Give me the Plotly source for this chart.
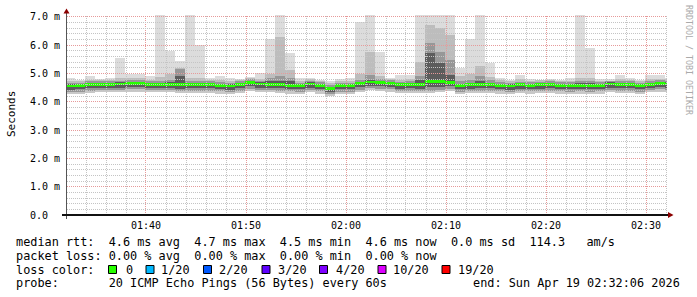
import math
import pandas as pd
import plotly.graph_objects as go

# ---------------- data (ms) ----------------
times = pd.date_range("2026-04-19 01:32:24", periods=61, freq="min")

median = [4.56,4.57,4.61,4.62,4.62,4.63,4.65,4.65,4.62,4.62,
          4.62,4.61,4.61,4.61,4.61,4.58,4.56,4.61,4.68,4.63,
          4.62,4.61,4.58,4.57,4.63,4.58,4.48,4.57,4.57,4.64,
          4.70,4.68,4.65,4.60,4.61,4.61,4.71,4.71,4.69,4.57,
          4.60,4.61,4.61,4.58,4.56,4.60,4.58,4.60,4.61,4.58,
          4.58,4.58,4.58,4.58,4.63,4.61,4.61,4.57,4.62,4.65,
          4.63]
ping_max = [4.83,4.76,4.92,4.80,4.85,5.56,5.00,4.97,4.90,7.30,
            5.80,5.44,7.30,6.00,4.85,4.93,4.85,4.80,4.88,5.03,
            6.22,7.30,5.71,4.83,4.83,4.77,4.75,4.80,4.83,6.83,
            7.30,5.77,4.85,4.95,4.95,7.30,7.30,7.30,7.30,5.20,
            6.22,7.30,5.38,4.84,4.77,4.95,4.80,4.77,4.80,4.77,
            4.83,7.30,5.89,4.80,4.78,4.95,4.85,4.78,4.95,4.95,
            4.85]
upper3 = [4.73,4.72,4.78,4.76,4.78,4.85,4.84,4.83,4.79,4.88,
          4.98,5.20,4.85,4.85,4.78,4.76,4.74,4.76,4.82,4.82,
          5.00,6.30,5.12,4.74,4.78,4.74,4.66,4.74,4.74,5.00,
          5.77,4.92,4.80,4.78,4.80,5.42,6.72,6.60,6.36,4.90,
          5.00,5.25,4.88,4.76,4.72,4.80,4.75,4.74,4.76,4.74,
          4.75,4.85,4.85,4.74,4.74,4.80,4.78,4.73,4.80,4.82,
          4.78]
upper2 = [4.67,4.68,4.72,4.72,4.73,4.75,4.76,4.76,4.73,4.74,
          4.78,5.15,4.75,4.73,4.72,4.69,4.67,4.72,4.78,4.74,
          4.85,4.90,4.85,4.68,4.74,4.69,4.59,4.68,4.68,4.76,
          4.95,4.80,4.76,4.71,4.72,4.90,6.08,5.77,5.48,4.74,
          4.78,4.90,4.76,4.69,4.67,4.71,4.69,4.71,4.72,4.69,
          4.69,4.74,4.74,4.69,4.74,4.72,4.72,4.68,4.73,4.76,
          4.74]
upper1 = [4.62,4.63,4.67,4.68,4.68,4.69,4.71,4.71,4.68,4.68,
          4.70,4.90,4.68,4.67,4.67,4.64,4.62,4.67,4.74,4.69,
          4.72,4.72,4.72,4.63,4.69,4.64,4.54,4.63,4.63,4.70,
          4.78,4.74,4.71,4.66,4.67,4.76,5.72,5.37,4.95,4.64,
          4.68,4.72,4.68,4.64,4.62,4.66,4.64,4.66,4.67,4.64,
          4.64,4.65,4.65,4.64,4.69,4.67,4.67,4.63,4.68,4.71,
          4.69]
lower1 = [4.43,4.44,4.48,4.49,4.49,4.50,4.52,4.52,4.49,4.49,
          4.49,4.47,4.48,4.48,4.48,4.45,4.43,4.48,4.55,4.50,
          4.49,4.48,4.45,4.44,4.50,4.45,4.36,4.44,4.44,4.51,
          4.57,4.55,4.52,4.47,4.48,4.47,4.52,4.54,4.55,4.44,
          4.47,4.48,4.48,4.45,4.43,4.47,4.45,4.47,4.48,4.45,
          4.44,4.45,4.44,4.45,4.50,4.48,4.48,4.44,4.49,4.52,
          4.50]
lower2 = [4.35,4.36,4.40,4.41,4.41,4.42,4.44,4.44,4.41,4.41,
          4.41,4.39,4.40,4.40,4.40,4.37,4.35,4.40,4.47,4.42,
          4.41,4.40,4.37,4.36,4.42,4.37,4.28,4.36,4.36,4.43,
          4.49,4.47,4.44,4.39,4.40,4.39,4.40,4.43,4.46,4.36,
          4.39,4.40,4.40,4.37,4.35,4.39,4.37,4.39,4.40,4.37,
          4.36,4.37,4.36,4.37,4.42,4.40,4.40,4.36,4.41,4.44,
          4.42]
ping_min = [4.29,4.30,4.34,4.35,4.35,4.36,4.38,4.38,4.35,4.35,
            4.35,4.33,4.34,4.34,4.34,4.31,4.29,4.34,4.41,4.36,
            4.35,4.34,4.31,4.30,4.36,4.31,4.22,4.30,4.30,4.37,
            4.43,4.41,4.38,4.33,4.34,4.33,4.30,4.34,4.38,4.30,
            4.33,4.34,4.34,4.31,4.29,4.33,4.31,4.33,4.34,4.31,
            4.30,4.31,4.30,4.31,4.36,4.34,4.34,4.30,4.35,4.38,
            4.36]

y_tickvals = [0, 1, 2, 3, 4, 5, 6, 7]
y_ticktext = ["0.0\u00a0\u00a0", "1.0 m", "2.0 m", "3.0 m", "4.0 m", "5.0 m", "6.0 m", "7.0 m"]

loss_labels = ["0", "1/20", "2/20", "3/20", "4/20", "10/20", "19/20"]
loss_colors = ["#26ff00", "#00b8ff", "#0059ff", "#5e00ff", "#7e00ff", "#dd00ff", "#ff0000"]

# ---------------- figure ----------------
W, H = 697, 297
L, R, T, B = 67, 30, 15, 82
PW, PH = W - L - R, H - T - B
Y_MAX = 7.07
x0 = pd.Timestamp("2026-04-19 01:32:06")
x1 = pd.Timestamp("2026-04-19 02:32:06")


def px(x):
    return (x - L) / PW


def py(y):
    return (H - B - y) / PH


fig = go.Figure()

bands = [
    (upper3, ping_max, "#dcdcdc"),
    (upper2, upper3, "#bdbdbd"),
    (upper1, upper2, "#979797"),
    (median, upper1, "#5c5c5c"),
    (lower1, median, "#5c5c5c"),
    (lower2, lower1, "#979797"),
    (ping_min, lower2, "#c8c8c8"),
]
for lo, hi, col in bands:
    fig.add_trace(go.Bar(
        x=times, base=lo, y=[h - l for l, h in zip(lo, hi)],
        width=60000, marker=dict(color=col, line=dict(width=0)),
        hoverinfo="skip", showlegend=False))

MED_H = 0.1
fig.add_trace(go.Bar(
    x=times, base=[m - MED_H / 2 for m in median], y=[MED_H] * len(median),
    width=60000, marker=dict(color=loss_colors[0], line=dict(width=0)),
    hoverinfo="skip", showlegend=False))

shapes = []
GRID = "#c4c4c4"
MGRID = "#e69a9a"
DASH = "1px,1px"
span_s = (x1 - x0).total_seconds()
# vertical grid (pixel-snapped so the dots stay crisp)
for t in pd.date_range("2026-04-19 01:34", "2026-04-19 02:32", freq="2min"):
    major = t.minute % 10 == 0
    xp = L + math.floor((t - x0).total_seconds() / span_s * PW) + 0.5
    shapes.append(dict(type="line", xref="paper", yref="paper", x0=px(xp), x1=px(xp),
                       y0=0, y1=1,
                       line=dict(color=MGRID if major else GRID, width=1, dash=DASH), layer="above"))
# horizontal grid
for k in range(1, 36):
    v = k * 0.2
    major = k % 5 == 0
    yp = math.floor(H - B - v / Y_MAX * PH) + 0.5
    shapes.append(dict(type="line", xref="paper", yref="paper", x0=0, x1=1, y0=py(yp), y1=py(yp),
                       line=dict(color=MGRID if major else GRID, width=1, dash=DASH), layer="above"))
# axes
shapes.append(dict(type="line", xref="paper", yref="paper", x0=px(66.5), x1=px(66.5),
                   y0=py(219), y1=py(12), line=dict(color="#555555", width=1), layer="above"))
shapes.append(dict(type="line", xref="paper", yref="paper", x0=px(62), x1=px(669),
                   y0=py(215), y1=py(215), line=dict(color="#111111", width=2), layer="above"))
# arrows
shapes.append(dict(type="path", xref="paper", yref="paper",
                   path=f"M {px(63.5)},{py(13.5)} L {px(69.5)},{py(13.5)} L {px(66.5)},{py(8.5)} Z",
                   fillcolor="#8b0000", line=dict(width=0), layer="above"))
shapes.append(dict(type="path", xref="paper", yref="paper",
                   path=f"M {px(668)},{py(212)} L {px(668)},{py(218)} L {px(673.5)},{py(215)} Z",
                   fillcolor="#8b0000", line=dict(width=0), layer="above"))

# loss color boxes
box_x = [108.5, 146, 203.5, 262, 319.5, 378, 442]
lab_x = [125, 160, 218, 277, 334.5, 392, 456.5]
for bx, col in zip(box_x, loss_colors):
    shapes.append(dict(type="rect", xref="paper", yref="paper",
                       x0=px(bx), x1=px(bx + 8), y0=py(273.5), y1=py(265.5),
                       fillcolor=col, line=dict(color="#000000", width=1), layer="above"))

MONO = "DejaVu Sans Mono"
FS = 11.85
ann = []


def text(x, y, s, size=FS, color="#000000", anchor="left", angle=0):
    ann.append(dict(x=px(x), y=py(y), xref="paper", yref="paper", text=s, showarrow=False,
                    xanchor=anchor, yanchor="middle", textangle=angle, borderpad=0,
                    font=dict(family=MONO, size=size, color=color)))


text(15, 241.5, "median rtt:  4.6 ms avg  4.7 ms max  4.5 ms min  4.6 ms now  0.0 ms sd  114.3   am/s")
text(15, 255.5, "packet loss: 0.00 % avg  0.00 % max  0.00 % min  0.00 % now")
text(15, 269.5, "loss color:")
for lx, lab in zip(lab_x, loss_labels):
    text(lx, 269.5, lab)
text(15, 283, "probe:       20 ICMP Echo Pings (56 Bytes) every 60s")
text(681, 283, "end: Sun Apr 19 02:32:06 2026", anchor="right")
# y title
ann.append(dict(x=px(11), y=py(114), xref="paper", yref="paper", text="Seconds", showarrow=False,
                xanchor="center", yanchor="middle", textangle=-90,
                font=dict(family=MONO, size=11, color="#000000")))
# watermark
ann.append(dict(x=px(689), y=py(60), xref="paper", yref="paper", text="RRDTOOL / TOBI OETIKER",
                showarrow=False, xanchor="center", yanchor="middle", textangle=90,
                font=dict(family=MONO, size=8.3, color="#aaaaaa")))

fig.update_layout(
    width=W, height=H, margin=dict(l=L, r=R, t=T, b=B, pad=0),
    paper_bgcolor="white", plot_bgcolor="white",
    barmode="overlay", bargap=0, showlegend=False,
    shapes=shapes, annotations=ann,
    xaxis=dict(type="date", range=[x0, x1], showgrid=False, zeroline=False, showline=False,
               dtick=600000, tick0="2026-04-19 01:40", tickformat="%H:%M", ticks="",
               ticklabelstandoff=3,
               tickfont=dict(family=MONO, size=10, color="#000000"), fixedrange=True),
    yaxis=dict(range=[0, Y_MAX], showgrid=False, zeroline=False, showline=False,
               tickvals=y_tickvals, ticktext=y_ticktext, ticks="", ticklabelstandoff=6,
               tickfont=dict(family=MONO, size=10, color="#000000"), fixedrange=True),
)

fig.write_html("out.html")
